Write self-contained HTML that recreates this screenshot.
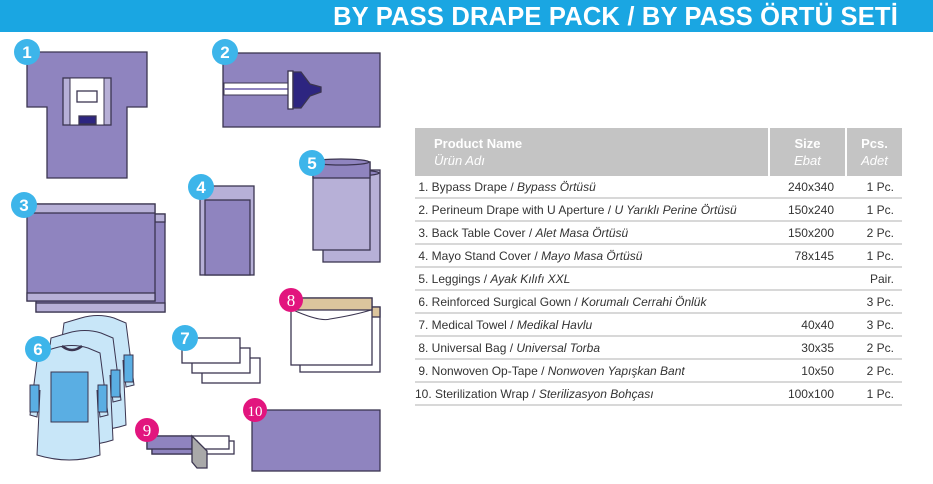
<!DOCTYPE html>
<html><head><meta charset="utf-8"><style>
body{margin:0;width:933px;height:484px;background:#fff;position:relative;overflow:hidden;font-family:"Liberation Sans",Arial,sans-serif}
#bar{position:absolute;left:0;top:0;width:933px;height:32px;background:#1aa6e2}
#title{position:absolute;right:35px;top:3px;color:#fff;font-weight:bold;font-size:25.5px;letter-spacing:0.2px}
table{position:absolute;left:415px;top:128px;width:487px;border-collapse:collapse;font-size:12px;color:#333}
th{background:#c4c4c4;color:#fff;font-weight:bold;text-align:left;font-size:13px;height:48px;padding:0;border-right:2px solid #fff;vertical-align:middle;line-height:17px}
th i{font-weight:normal}
td{height:21px;border-bottom:2px solid #d8d8d8;padding:0}
td.s{text-align:right;padding-right:12px}
td.p{text-align:right;padding-right:8px}
</style></head><body>
<div id="bar"></div><div id="title">BY PASS DRAPE PACK / BY PASS ÖRTÜ SETİ</div>
<svg width="400" height="484" style="position:absolute;left:0;top:0" stroke="#3b3550" stroke-width="1.3">
<!-- 1 -->
<path d="M27,52H147V107H127V178H47V107H27Z" fill="#8f84bf"/>
<rect x="63" y="78" width="48" height="47" fill="#b7b0d7"/>
<rect x="70" y="78" width="34" height="47" fill="#fff" stroke-width="1"/>
<rect x="77" y="91" width="20" height="11" fill="#fff"/>
<rect x="79" y="116" width="17" height="8" fill="#2d2580"/>
<!-- 2 -->
<rect x="223" y="53" width="157" height="74" fill="#8f84bf"/>
<rect x="224" y="83" width="65" height="12" fill="#fff" stroke-width="1"/>
<line x1="224" y1="89" x2="289" y2="89" stroke="#8f84bf" stroke-width="2"/>
<rect x="288" y="71" width="5" height="38" fill="#fff"/>
<path d="M293,72H301L310,84L321,87V92L310,96L301,108H293Z" fill="#2d2580"/>
<!-- 5 -->
<rect x="323" y="170" width="57" height="92" fill="#b7b0d7"/>
<ellipse cx="351" cy="173" rx="28" ry="3" fill="#8f84bf"/>
<rect x="313" y="162" width="57" height="88" fill="#b7b0d7"/>
<rect x="313" y="162" width="57" height="16" fill="#8f84bf"/>
<ellipse cx="341" cy="162" rx="28" ry="3" fill="#8f84bf"/>
<!-- 4 -->
<rect x="200" y="186" width="54" height="89" fill="#b7b0d7"/>
<rect x="205" y="200" width="45" height="75" fill="#8f84bf"/>
<!-- 3 -->
<rect x="36" y="214" width="129" height="98" fill="#8f84bf"/>
<rect x="36" y="303" width="129" height="9" fill="#b7b0d7"/>
<rect x="155" y="214" width="10" height="8" fill="#b7b0d7"/>
<rect x="27" y="204" width="128" height="97" fill="#8f84bf"/>
<rect x="27" y="204" width="128" height="9" fill="#b7b0d7"/>
<rect x="27" y="293" width="128" height="8" fill="#b7b0d7"/>
<!-- 6 gowns -->
<g fill="#c8e6f8" stroke-width="1">
<g transform="translate(26,-30)"><path d="M55,348Q72,343 88,348L100,353L108,415L100,417L97,390L100,455Q70,465 37,455L40,390L37,417L30,415L38,353Z"/><rect x="98" y="385" width="9" height="27" fill="#5aaee3"/></g>
<g transform="translate(13,-15)"><path d="M55,348Q72,343 88,348L100,353L108,415L100,417L97,390L100,455Q70,465 37,455L40,390L37,417L30,415L38,353Z"/><rect x="98" y="385" width="9" height="27" fill="#5aaee3"/></g>
<path d="M55,348Q72,343 88,348L100,353L108,415L100,417L97,390L100,455Q70,465 37,455L40,390L37,417L30,415L38,353Z"/>
<rect x="98" y="385" width="9" height="27" fill="#5aaee3"/><rect x="30" y="385" width="9" height="27" fill="#5aaee3"/>
<rect x="51" y="372" width="37" height="50" fill="#5aaee3"/>
<path d="M62,346Q72,354 82,346" fill="none" stroke-width="2.5"/>
</g>
<!-- 7 -->
<g fill="#fff"><rect x="202" y="358" width="58" height="25"/><rect x="192" y="348" width="58" height="25"/><rect x="182" y="338" width="58" height="25"/></g>
<!-- 8 -->
<rect x="300" y="307" width="80" height="65" fill="#fff"/>
<rect x="370" y="307" width="10" height="10" fill="#dcc59d"/>
<rect x="291" y="298" width="81" height="67" fill="#fff"/>
<rect x="291" y="298" width="81" height="12" fill="#dcc59d"/>
<path d="M293,310Q320,322 330,319Q355,315 371,310" fill="none" stroke-width="1"/>
<!-- 9 -->
<rect x="152" y="441" width="82" height="13" fill="#fff"/>
<rect x="147" y="436" width="82" height="13" fill="#fff"/>
<rect x="152" y="441" width="45" height="13" fill="#8f84bf"/>
<rect x="147" y="436" width="45" height="13" fill="#8f84bf"/>
<path d="M192,436L207,451V468H197L192,462Z" fill="#a9a9a9"/>
<!-- 10 -->
<rect x="252" y="410" width="128" height="61" fill="#8f84bf"/>
<g stroke="none" font-weight="bold" font-size="17" text-anchor="middle" fill="#fff">
<circle cx="27" cy="52" r="13" fill="#3db5ea"/><text x="27" y="58">1</text>
<circle cx="225" cy="52" r="13" fill="#3db5ea"/><text x="225" y="58">2</text>
<circle cx="24" cy="205" r="13" fill="#3db5ea"/><text x="24" y="211">3</text>
<circle cx="201" cy="187" r="13" fill="#3db5ea"/><text x="201" y="193">4</text>
<circle cx="312" cy="163" r="13" fill="#3db5ea"/><text x="312" y="169">5</text>
<circle cx="38" cy="349" r="13" fill="#3db5ea"/><text x="38" y="355">6</text>
<circle cx="185" cy="338" r="13" fill="#3db5ea"/><text x="185" y="344">7</text>
<g font-family="Liberation Serif,serif" font-weight="normal">
<circle cx="291" cy="300" r="12" fill="#e2157e"/><text x="291" y="306">8</text>
<circle cx="147" cy="430" r="12" fill="#e2157e"/><text x="147" y="436">9</text>
<circle cx="255" cy="410" r="12" fill="#e2157e"/><text x="255" y="416" font-size="15">10</text>
</g></g>
</svg>
<table>
<tr><th style="width:354px;padding-left:19px;box-sizing:border-box">Product Name<br><i>Ürün Adı</i></th><th style="width:75px;text-align:center">Size<br><i>Ebat</i></th><th style="text-align:center;border-right:0">Pcs.<br><i>Adet</i></th></tr>
<tr><td>&nbsp;1. Bypass Drape / <i>Bypass Örtüsü</i></td><td class="s">240x340</td><td class="p">1 Pc.</td></tr>
<tr><td>&nbsp;2. Perineum Drape with U Aperture / <i>U Yarıklı Perine Örtüsü</i></td><td class="s">150x240</td><td class="p">1 Pc.</td></tr>
<tr><td>&nbsp;3. Back Table Cover / <i>Alet Masa Örtüsü</i></td><td class="s">150x200</td><td class="p">2 Pc.</td></tr>
<tr><td>&nbsp;4. Mayo Stand Cover / <i>Mayo Masa Örtüsü</i></td><td class="s">78x145</td><td class="p">1 Pc.</td></tr>
<tr><td>&nbsp;5. Leggings / <i>Ayak Kılıfı XXL</i></td><td></td><td class="p">Pair.</td></tr>
<tr><td>&nbsp;6. Reinforced Surgical Gown / <i>Korumalı Cerrahi Önlük</i></td><td></td><td class="p">3 Pc.</td></tr>
<tr><td>&nbsp;7. Medical Towel / <i>Medikal Havlu</i></td><td class="s">40x40</td><td class="p">3 Pc.</td></tr>
<tr><td>&nbsp;8. Universal Bag / <i>Universal Torba</i></td><td class="s">30x35</td><td class="p">2 Pc.</td></tr>
<tr><td>&nbsp;9. Nonwoven Op-Tape / <i>Nonwoven Yapışkan Bant</i></td><td class="s">10x50</td><td class="p">2 Pc.</td></tr>
<tr><td>10. Sterilization Wrap / <i>Sterilizasyon Bohçası</i></td><td class="s">100x100</td><td class="p">1 Pc.</td></tr>
</table>
</body></html>
